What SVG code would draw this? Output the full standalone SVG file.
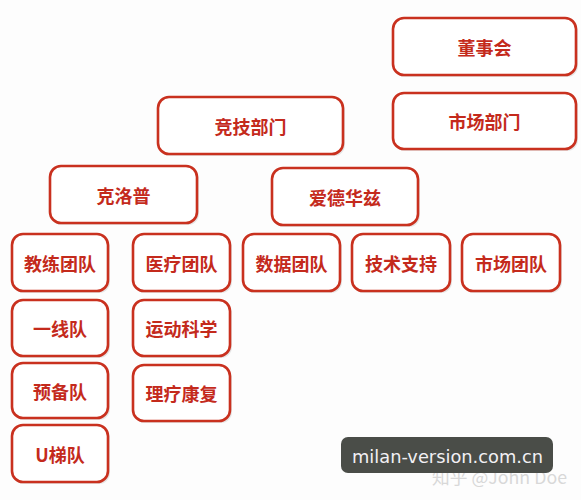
<svg xmlns="http://www.w3.org/2000/svg" width="581" height="500" viewBox="0 0 581 500">
<defs>
<style>
.box{fill:#ffffff;stroke:#c9311f;stroke-width:2.6}
.lbl{font-family:"Noto Sans CJK SC","Noto Sans",sans-serif;font-size:18px;font-weight:bold;fill:#c42a1c;text-anchor:middle;dominant-baseline:central}
.sh{fill:#e6e6e6}
</style>
</defs>
<rect width="581" height="500" fill="#fdfdfd"/>
<g id="connectors"></g>
<g id="n-dongshihui"><rect class="sh" x="394" y="20" width="184" height="57" rx="11"/><rect class="box" x="393" y="18" width="183" height="57" rx="11"/><text class="lbl" x="484.5" y="46.5">董事会</text></g>
<g id="n-shichangbumen"><rect class="sh" x="394" y="95" width="184" height="56" rx="11"/><rect class="box" x="393" y="93" width="183" height="56" rx="11"/><text class="lbl" x="484.5" y="121">市场部门</text></g>
<g id="n-jingjibumen"><rect class="sh" x="159" y="99" width="186" height="57" rx="11"/><rect class="box" x="158" y="97" width="185" height="57" rx="11"/><text class="lbl" x="250.5" y="125.5">竞技部门</text></g>
<g id="n-kelopu"><rect class="sh" x="51" y="168" width="148" height="57" rx="11"/><rect class="box" x="50" y="166" width="147" height="57" rx="11"/><text class="lbl" x="123.5" y="194.5">克洛普</text></g>
<g id="n-aidehuazi"><rect class="sh" x="273" y="170" width="147" height="57" rx="11"/><rect class="box" x="272" y="168" width="146" height="57" rx="11"/><text class="lbl" x="345" y="196.5">爱德华兹</text></g>
<g id="n-jiaolian"><rect class="sh" x="13" y="236" width="97" height="57" rx="11"/><rect class="box" x="12" y="234" width="96" height="57" rx="11"/><text class="lbl" x="60" y="262.5">教练团队</text></g>
<g id="n-yiliao"><rect class="sh" x="134" y="236" width="98" height="57" rx="11"/><rect class="box" x="133" y="234" width="97" height="57" rx="11"/><text class="lbl" x="181.5" y="262.5">医疗团队</text></g>
<g id="n-shuju"><rect class="sh" x="244" y="236" width="98" height="57" rx="11"/><rect class="box" x="243" y="234" width="97" height="57" rx="11"/><text class="lbl" x="291.5" y="262.5">数据团队</text></g>
<g id="n-jishu"><rect class="sh" x="353" y="236" width="99" height="57" rx="11"/><rect class="box" x="352" y="234" width="98" height="57" rx="11"/><text class="lbl" x="401" y="262.5">技术支持</text></g>
<g id="n-shichangtuandui"><rect class="sh" x="463" y="236" width="99" height="57" rx="11"/><rect class="box" x="462" y="234" width="98" height="57" rx="11"/><text class="lbl" x="511" y="262.5">市场团队</text></g>
<g id="n-yixiandui"><rect class="sh" x="13" y="302" width="97" height="56" rx="11"/><rect class="box" x="12" y="300" width="96" height="56" rx="11"/><text class="lbl" x="60" y="328">一线队</text></g>
<g id="n-yundong"><rect class="sh" x="134" y="302" width="98" height="56" rx="11"/><rect class="box" x="133" y="300" width="97" height="56" rx="11"/><text class="lbl" x="181.5" y="328">运动科学</text></g>
<g id="n-yubeidui"><rect class="sh" x="13" y="365" width="97" height="55" rx="11"/><rect class="box" x="12" y="363" width="96" height="55" rx="11"/><text class="lbl" x="60" y="390.5">预备队</text></g>
<g id="n-liliao"><rect class="sh" x="134" y="367" width="98" height="56" rx="11"/><rect class="box" x="133" y="365" width="97" height="56" rx="11"/><text class="lbl" x="181.5" y="393">理疗康复</text></g>
<g id="n-utidui"><rect class="sh" x="13" y="427" width="97" height="57" rx="11"/><rect class="box" x="12" y="425" width="96" height="57" rx="11"/><text class="lbl" x="60" y="453.5">U梯队</text></g>
<g id="watermark">
<text x="432" y="484" font-family="'Noto Sans CJK SC','DejaVu Sans',sans-serif" font-size="17" fill="#d8d8d8" textLength="135" lengthAdjust="spacingAndGlyphs">知乎 @John Doe</text>
<rect x="341" y="437" width="212" height="36" rx="7" fill="#4a4d48"/>
<text x="447.5" y="456" font-family="'DejaVu Sans',sans-serif" font-size="18" fill="#f2f0f4" text-anchor="middle" dominant-baseline="central" textLength="191" lengthAdjust="spacingAndGlyphs">milan-version.com.cn</text>
</g>
</svg>
